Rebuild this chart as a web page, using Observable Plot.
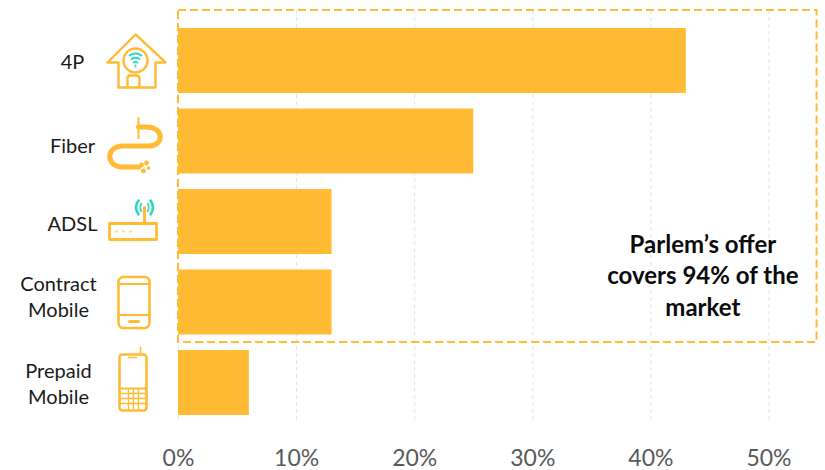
<!DOCTYPE html>
<html>
<head>
<meta charset="utf-8">
<script src="https://cdn.jsdelivr.net/npm/d3@7"></script>
<script src="https://cdn.jsdelivr.net/npm/@observablehq/plot@0.6"></script>
<style>
  html, body { margin: 0; padding: 0; background: #fff; }
  svg { display: block; }
</style>
</head>
<body>
<div id="chart"></div>
<script>
// Share of the market by service type, in percent
const categories = ["4P", "Fiber", "ADSL", "Contract Mobile", "Prepaid Mobile"];
const shares = [43, 25, 13, 13, 6];
const percentTicks = [0, 10, 20, 30, 40, 50];
const categoryLabels = ["4P", "Fiber", "ADSL", "Contract\nMobile", "Prepaid\nMobile"];
const calloutText = "Parlem’s offer\ncovers 94% of the\nmarket";

const AMBER = "#FFBB33";
const TEAL = "#2FD6BE";
const FONT = "Lato, Carlito, sans-serif";

const rows = categories.map((name, i) => ({name, share: shares[i], label: categoryLabels[i]}));

// Line-art service icons, each on a 70x70 canvas
const svgIcon = (body) =>
  "data:image/svg+xml;utf8," + encodeURIComponent(
    `<svg xmlns="http://www.w3.org/2000/svg" viewBox="0 0 70 70" fill="none" stroke="${AMBER}" stroke-width="2.4" stroke-linecap="round" stroke-linejoin="round">${body}</svg>`
  );

const icons = {
  "4P": svgIcon(`
    <path d="M7 34 L35 6 L65 34 L55 34 M7 34 L18 34 L18 59 L55 59 L55 34"/>
    <circle cx="35" cy="32" r="12"/>
    <path d="M27 59 V50 Q27 47 30 47 H36 Q39 47 39 50 V59"/>
    <g stroke="${TEAL}" stroke-width="1.8">
      <path d="M29 27 Q35 23 41 27"/><path d="M31 30.5 Q35 28 39 30.5"/><path d="M33 34 Q35 33 37 34"/>
      <path d="M35 37 V38"/>
    </g>`),
  "Fiber": svgIcon(`
    <path d="M38 7 V27" stroke-width="2"/>
    <path d="M38 16 H46 C64 16 64 35 48 35 H22 C5 35 5 56 22 56 H38" stroke-width="5"/>
    <g fill="${AMBER}" stroke="none">
      <circle cx="41" cy="54" r="2.4"/><circle cx="46" cy="52" r="2.4"/><circle cx="43" cy="60" r="2.4"/><circle cx="48" cy="57" r="1.8"/>
    </g>`),
  "ADSL": svgIcon(`
    <path d="M9 28 H56 V44 H9 Z" stroke-width="2.8"/>
    <path d="M44 27 V12" stroke-width="3"/>
    <g fill="${AMBER}" stroke="none" opacity="0.6">
      <circle cx="16" cy="36" r="1.3"/><circle cx="23" cy="36" r="1.3"/><circle cx="30" cy="36" r="1.3"/>
    </g>
    <g stroke="${TEAL}" stroke-width="2.6">
      <path d="M38 5 Q33 12 38 19"/><path d="M50 5 Q55 12 50 19"/>
      <path d="M41 8 Q38.5 12 41 16" stroke-width="1.6"/><path d="M47 8 Q49.5 12 47 16" stroke-width="1.6"/>
    </g>`),
  "Contract Mobile": svgIcon(`
    <rect x="20" y="10" width="31" height="51" rx="5" stroke-width="2.6"/>
    <path d="M20 17 H51 M20 48 H51" stroke-width="2"/>
    <path d="M31 54.5 H40" stroke-width="3"/>`),
  "Prepaid Mobile": svgIcon(`
    <path d="M42 9 V2" stroke-width="1.6"/>
    <rect x="21" y="9" width="27" height="56" rx="3" stroke-width="2.6"/>
    <path d="M21 43 H48" stroke-width="2"/>
    <path d="M30 12 H38" stroke-width="1.6"/>
    <g stroke-width="1.4">
      <path d="M22 48 H47 M22 53 H47 M22 58 H47 M30 43 V64 M35 43 V64 M40 43 V64"/>
    </g>`)
};

// Horizontal and vertical nudges of each icon from its bar's left end
const iconOffset = {
  "4P": [-43, 2.5],
  "Fiber": [-43, 4.5],
  "ADSL": [-43, 8.5],
  "Contract Mobile": [-45, -0.5],
  "Prepaid Mobile": [-45, -2.5]
};

const labelOffset = {
  "4P": [-106, 0],
  "Fiber": [-106, 3],
  "ADSL": [-106, 0.5],
  "Contract Mobile": [-120, -7],
  "Prepaid Mobile": [-120, -0.5]
};

const plot = Plot.plot({
  width: 825,
  height: 470,
  marginLeft: 178,
  marginRight: 56.5,
  marginTop: 28,
  marginBottom: 55,
  style: {fontFamily: FONT, background: "#fff", overflow: "visible"},
  x: {domain: [0, 50], ticks: percentTicks, label: null},
  y: {domain: categories, paddingInner: 0.193, paddingOuter: 0, round: false, label: null, axis: null},
  marks: [
    Plot.ruleX(percentTicks, {stroke: "#e4e4e4", strokeWidth: 1, strokeDasharray: "4 3", insetTop: -18, insetBottom: -6}),
    Plot.barX(rows, {x: "share", y: "name", fill: AMBER}),

    // Dashed outline around the services included in the offer
    (index, {x, y}) => {
      const top = y("4P") - 18;
      const bottom = y("Contract Mobile") + y.bandwidth() + 7.5;
      return d3.create("svg:rect")
        .attr("x", x(0))
        .attr("y", top)
        .attr("width", x(54.07) - x(0))
        .attr("height", bottom - top)
        .attr("fill", "none")
        .attr("stroke", AMBER)
        .attr("stroke-width", 2)
        .attr("stroke-dasharray", "8 4")
        .node();
    },

    ...rows.map((r) => Plot.image([r], {
      x: () => 0,
      y: "name",
      src: () => icons[r.name],
      width: 70,
      height: 70,
      dx: iconOffset[r.name][0],
      dy: iconOffset[r.name][1]
    })),
    ...rows.map((r) => Plot.text([r], {
      x: () => 0,
      y: "name",
      text: "label",
      dx: labelOffset[r.name][0],
      dy: labelOffset[r.name][1],
      textAnchor: "middle",
      fontSize: 20,
      lineHeight: 1.3,
      fill: "#1a1a1a"
    })),

    Plot.text([calloutText], {
      x: () => 44.4,
      y: () => "Contract Mobile",
      dy: -28,
      text: (d) => d,
      textAnchor: "middle",
      fontSize: 24,
      fontWeight: 700,
      lineHeight: 1.3,
      fill: "#0a0a0a"
    }),

    Plot.axisX(percentTicks, {
      tickSize: 0,
      tickPadding: 34,
      tickFormat: (d) => `${d}%`,
      fontSize: 23,
      fill: "#595959",
      label: null
    })
  ]
});

document.getElementById("chart").append(plot);
</script>
</body>
</html>
